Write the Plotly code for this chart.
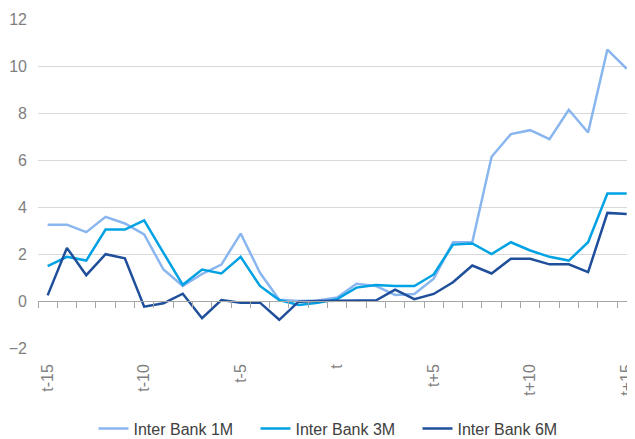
import plotly.graph_objects as go
import numpy as np

periods = list(range(-15, 16))
tick_vals = [-15, -10, -5, 0, 5, 10, 15]
tick_text = ["t-15", "t-10", "t-5", "t", "t+5", "t+10", "t+15"]

bank_1m = [3.25, 3.25, 2.93, 3.58, 3.30, 2.83, 1.34, 0.64, 1.15, 1.55, 2.87, 1.20, 0.05, 0.00, 0.02,
           0.15, 0.73, 0.64, 0.26, 0.30, 0.95, 2.50, 2.50, 6.14, 7.10, 7.27, 6.89, 8.14, 7.17, 10.70, 9.88]
bank_3m = [1.48, 1.88, 1.72, 3.04, 3.04, 3.43, 2.05, 0.69, 1.34, 1.17, 1.88, 0.64, 0.04, -0.17, -0.08,
           0.08, 0.57, 0.68, 0.64, 0.64, 1.13, 2.40, 2.45, 2.00, 2.50, 2.15, 1.88, 1.72, 2.50, 4.57, 4.57]
bank_6m = [0.24, 2.26, 1.10, 1.99, 1.82, -0.24, -0.10, 0.31, -0.73, 0.04, -0.07, -0.07, -0.80, -0.03, 0.00,
           0.02, 0.02, 0.02, 0.48, 0.08, 0.30, 0.80, 1.51, 1.17, 1.80, 1.80, 1.56, 1.56, 1.23, 3.75, 3.70]

names = ["Inter Bank 1M", "Inter Bank 3M", "Inter Bank 6M"]
colors = ["#8AB6F0", "#00A2E3", "#1F4E9B"]

FONT = "Liberation Sans, Arial, sans-serif"

fig = go.Figure()
for name, vals, col in zip(names, [bank_1m, bank_3m, bank_6m], colors):
    fig.add_trace(go.Scatter(x=periods, y=vals, mode="lines", name=name,
                             line=dict(color=col, width=2.5)))

# helper trace for the zero axis with ticks
fig.add_trace(go.Scatter(x=[0], y=[None], xaxis="x2", yaxis="y", showlegend=False,
                         hoverinfo="skip", mode="lines"))

xr = [-15.5, 15.43]
fig.update_layout(
    width=627, height=431,
    margin=dict(l=30, r=0, t=11, b=91, autoexpand=False),
    paper_bgcolor="white", plot_bgcolor="white",
    font=dict(family=FONT, color="#7F7F7F"),
    xaxis=dict(range=xr, tickmode="array", tickvals=tick_vals, ticktext=tick_text,
               tickangle=-90, showgrid=False, zeroline=False, showline=False,
               ticks="", tickfont=dict(size=16, color="#7F7F7F"),
               ticklabelstandoff=12, ticklabeloverflow="allow", automargin=False),
    xaxis2=dict(range=xr, overlaying="x", anchor="free", position=2/14,
                tickmode="array", tickvals=list(np.arange(-15.5, 16, 1)),
                ticks="outside", ticklen=6, tickcolor="#A6A6A6", tickwidth=1,
                showline=True, linecolor="#A6A6A6", linewidth=1,
                showticklabels=False, showgrid=False, zeroline=False, automargin=False),
    yaxis=dict(range=[-2, 12], tickvals=[-2, 0, 2, 4, 6, 8, 10, 12],
               showgrid=True, gridcolor="#D9D9D9", gridwidth=1,
               zeroline=False, showline=False, ticks="", automargin=False,
               tickfont=dict(size=16, color="#7F7F7F"), ticklabelstandoff=10),
    legend=dict(orientation="h", x=0.5, xanchor="center", y=-0.245, yanchor="middle",
                font=dict(size=16, color="#404040"), itemwidth=30,
                entrywidth=117, entrywidthmode="pixels"),
    showlegend=True,
)

fig.write_html("out.html")
